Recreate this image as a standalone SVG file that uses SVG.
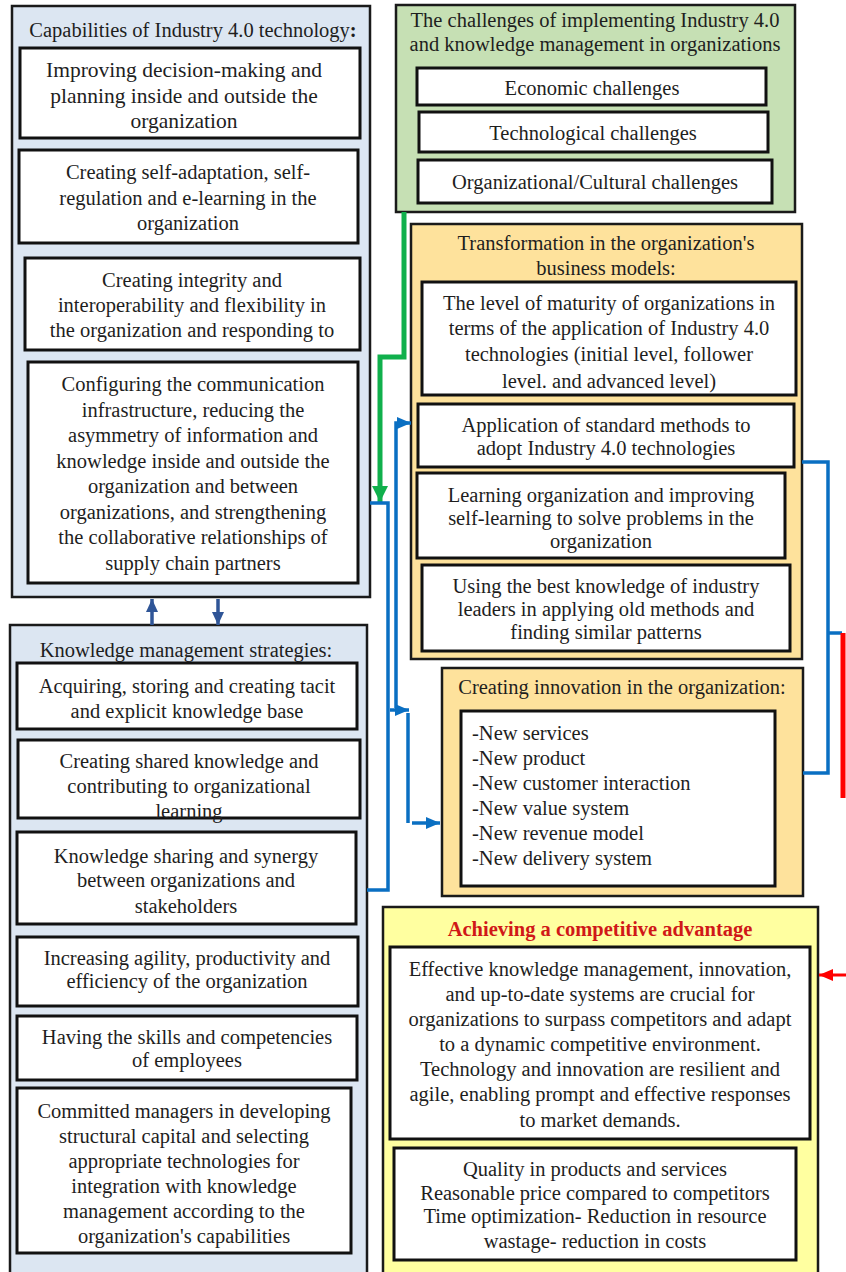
<svg xmlns="http://www.w3.org/2000/svg" width="846" height="1272" viewBox="0 0 846 1272" font-family="Liberation Serif, serif">
<style>
text{font-size:20.5px;fill:#1e1e1e;text-anchor:middle}
.outer{stroke:#1a1a1a;stroke-width:2.5}
.inner{fill:#ffffff;stroke:#111111;stroke-width:3}
.blue{fill:#dce6f2}.green{fill:#c6e0b4}.orange{fill:#fee29c}.yellow{fill:#ffffa0}
.left{text-anchor:start}
.big{font-size:21.5px}
.red{fill:#d01818;font-weight:bold}
.cb{fill:none;stroke:#0a6fc2;stroke-width:3.5}
.cg{fill:none;stroke:#10b04c;stroke-width:5}
.cr{fill:none;stroke:#ff0000;stroke-width:5}
.cd{fill:none;stroke:#2f5597;stroke-width:3.5}
</style>
<defs>
<marker id="ab" markerUnits="userSpaceOnUse" markerWidth="16" markerHeight="16" refX="14" refY="8" orient="auto"><path d="M0,2 L14,8 L0,14 Z" fill="#0a6fc2"/></marker>
<marker id="ag" markerUnits="userSpaceOnUse" markerWidth="20" markerHeight="20" refX="16" refY="10" orient="auto"><path d="M0,2 L16,10 L0,18 Z" fill="#10b04c"/></marker>
<marker id="ad" markerUnits="userSpaceOnUse" markerWidth="16" markerHeight="16" refX="13" refY="8" orient="auto"><path d="M0,2 L13,8 L0,14 Z" fill="#2f5597"/></marker>
<marker id="ar" markerUnits="userSpaceOnUse" markerWidth="16" markerHeight="16" refX="14" refY="8" orient="auto"><path d="M0,2 L14,8 L0,14 Z" fill="#ff0000"/></marker>
</defs>

<g id="capabilities">
<rect class="outer blue" x="12" y="6" width="358" height="591"/>
<text x="193" y="37" font-size="21">Capabilities of Industry 4.0 technology<tspan font-weight="bold">:</tspan></text>
<rect class="inner" x="20" y="48" width="340" height="90"/>
<text class="big" x="184" y="77">Improving decision-making and</text>
<text class="big" x="184" y="102.5">planning inside and outside the</text>
<text class="big" x="184" y="128">organization</text>
<rect class="inner" x="19" y="150" width="339" height="93"/>
<text x="188" y="179">Creating self-adaptation, self-</text>
<text x="188" y="205">regulation and e-learning in the</text>
<text x="188" y="230">organization</text>
<rect class="inner" x="25" y="258" width="335" height="92"/>
<text x="192" y="287">Creating integrity and</text>
<text x="192" y="312">interoperability and flexibility in</text>
<text x="192" y="337">the organization and responding to</text>
<rect class="inner" x="28" y="362" width="330" height="221"/>
<text x="193" y="391">Configuring the communication</text>
<text x="193" y="416.5">infrastructure, reducing the</text>
<text x="193" y="442">asymmetry of information and</text>
<text x="193" y="467.5">knowledge inside and outside the</text>
<text x="193" y="493">organization and between</text>
<text x="193" y="518.5">organizations, and strengthening</text>
<text x="193" y="544">the collaborative relationships of</text>
<text x="193" y="569.5">supply chain partners</text>
</g>

<g id="km">
<rect class="outer blue" x="10" y="625" width="357" height="660"/>
<text x="186" y="657">Knowledge management strategies:</text>
<rect class="inner" x="17" y="663" width="340" height="66"/>
<text x="187" y="693">Acquiring, storing and creating tacit</text>
<text x="187" y="718">and explicit knowledge base</text>
<rect class="inner" x="18" y="740" width="342" height="78"/>
<text x="189" y="768">Creating shared knowledge and</text>
<text x="189" y="793">contributing to organizational</text>
<text x="189" y="818">learning</text>
<rect class="inner" x="17" y="832" width="339" height="92"/>
<text x="186" y="863">Knowledge sharing and synergy</text>
<text x="186" y="887">between organizations and</text>
<text x="186" y="913">stakeholders</text>
<rect class="inner" x="17" y="937" width="341" height="69"/>
<text x="187" y="965">Increasing agility, productivity and</text>
<text x="187" y="988">efficiency of the organization</text>
<rect class="inner" x="17" y="1016" width="340" height="64"/>
<text x="187" y="1044">Having the skills and competencies</text>
<text x="187" y="1067">of employees</text>
<rect class="inner" x="17" y="1088" width="334" height="165"/>
<text x="184" y="1118">Committed managers in developing</text>
<text x="184" y="1143">structural capital and selecting</text>
<text x="184" y="1168">appropriate technologies for</text>
<text x="184" y="1193">integration with knowledge</text>
<text x="184" y="1218">management according to the</text>
<text x="184" y="1243">organization's capabilities</text>
</g>

<g id="challenges">
<rect class="outer green" x="396" y="5" width="399" height="207"/>
<text x="595" y="27">The challenges of implementing Industry 4.0</text>
<text x="595" y="51">and knowledge management in organizations</text>
<rect class="inner" x="417" y="68" width="349" height="37"/>
<text x="592" y="95">Economic challenges</text>
<rect class="inner" x="419" y="112" width="349" height="40"/>
<text x="593" y="140">Technological challenges</text>
<rect class="inner" x="418" y="160" width="354" height="43"/>
<text x="595" y="189">Organizational/Cultural challenges</text>
</g>

<g id="transformation">
<rect class="outer orange" x="411" y="224" width="391" height="435"/>
<text x="606" y="250">Transformation in the organization's</text>
<text x="606" y="275">business models:</text>
<rect class="inner" x="422" y="282" width="374" height="113"/>
<text x="609" y="310">The level of maturity of organizations in</text>
<text x="609" y="335">terms of the application of Industry 4.0</text>
<text x="609" y="361">technologies (initial level, follower</text>
<text x="609" y="388">level. and advanced level)</text>
<rect class="inner" x="418" y="404" width="376" height="63"/>
<text x="606" y="432">Application of standard methods to</text>
<text x="606" y="455">adopt Industry 4.0 technologies</text>
<rect class="inner" x="417" y="473" width="368" height="85"/>
<text x="601" y="502">Learning organization and improving</text>
<text x="601" y="525">self-learning to solve problems in the</text>
<text x="601" y="548">organization</text>
<rect class="inner" x="422" y="565" width="368" height="86"/>
<text x="606" y="593">Using the best knowledge of industry</text>
<text x="606" y="616">leaders in applying old methods and</text>
<text x="606" y="639">finding similar patterns</text>
</g>

<g id="innovation">
<rect class="outer orange" x="442" y="668" width="361" height="228"/>
<text x="622" y="694">Creating innovation in the organization:</text>
<rect class="inner" x="461" y="711" width="314" height="175"/>
<text class="left" x="472" y="740">-New services</text>
<text class="left" x="472" y="765">-New product</text>
<text class="left" x="472" y="790">-New customer interaction</text>
<text class="left" x="472" y="815">-New value system</text>
<text class="left" x="472" y="840">-New revenue model</text>
<text class="left" x="472" y="865">-New delivery system</text>
</g>

<g id="advantage">
<rect class="outer yellow" x="383" y="907" width="435" height="380"/>
<text class="red" x="600" y="936" font-size="19">Achieving a competitive advantage</text>
<rect class="inner" x="390" y="947" width="420" height="192"/>
<text x="600" y="976">Effective knowledge management, innovation,</text>
<text x="600" y="1001">and up-to-date systems are crucial for</text>
<text x="600" y="1026">organizations to surpass competitors and adapt</text>
<text x="600" y="1051">to a dynamic competitive environment.</text>
<text x="600" y="1076">Technology and innovation are resilient and</text>
<text x="600" y="1101">agile, enabling prompt and effective responses</text>
<text x="600" y="1127">to market demands.</text>
<rect class="inner" x="394" y="1148" width="402" height="112"/>
<text x="595" y="1176">Quality in products and services</text>
<text x="595" y="1200">Reasonable price compared to competitors</text>
<text x="595" y="1223">Time optimization- Reduction in resource</text>
<text x="595" y="1248">wastage- reduction in costs</text>
</g>

<g id="connectors">
<path class="cd" d="M152,625 V599" marker-end="url(#ad)"/>
<path class="cd" d="M218,599 V625" marker-end="url(#ad)"/>
<path class="cg" d="M404,212 V357 H380 V502" marker-end="url(#ag)"/>
<path class="cb" d="M367,890 H388 V503 H370"/>
<path class="cb" d="M396,708 V423 H411" marker-end="url(#ab)"/>
<path class="cb" d="M390,710 H409" marker-end="url(#ab)"/>
<path class="cb" d="M408,713 V823"/>
<path class="cb" d="M412,823 H440" marker-end="url(#ab)"/>
<path class="cb" d="M802,462 H828 V773 H803"/>
<path class="cb" d="M828,633 H842"/>
<path class="cr" d="M843,633 V798"/>
<path class="cr" style="stroke-width:3" d="M846,975 H819" marker-end="url(#ar)"/>
</g>
</svg>
